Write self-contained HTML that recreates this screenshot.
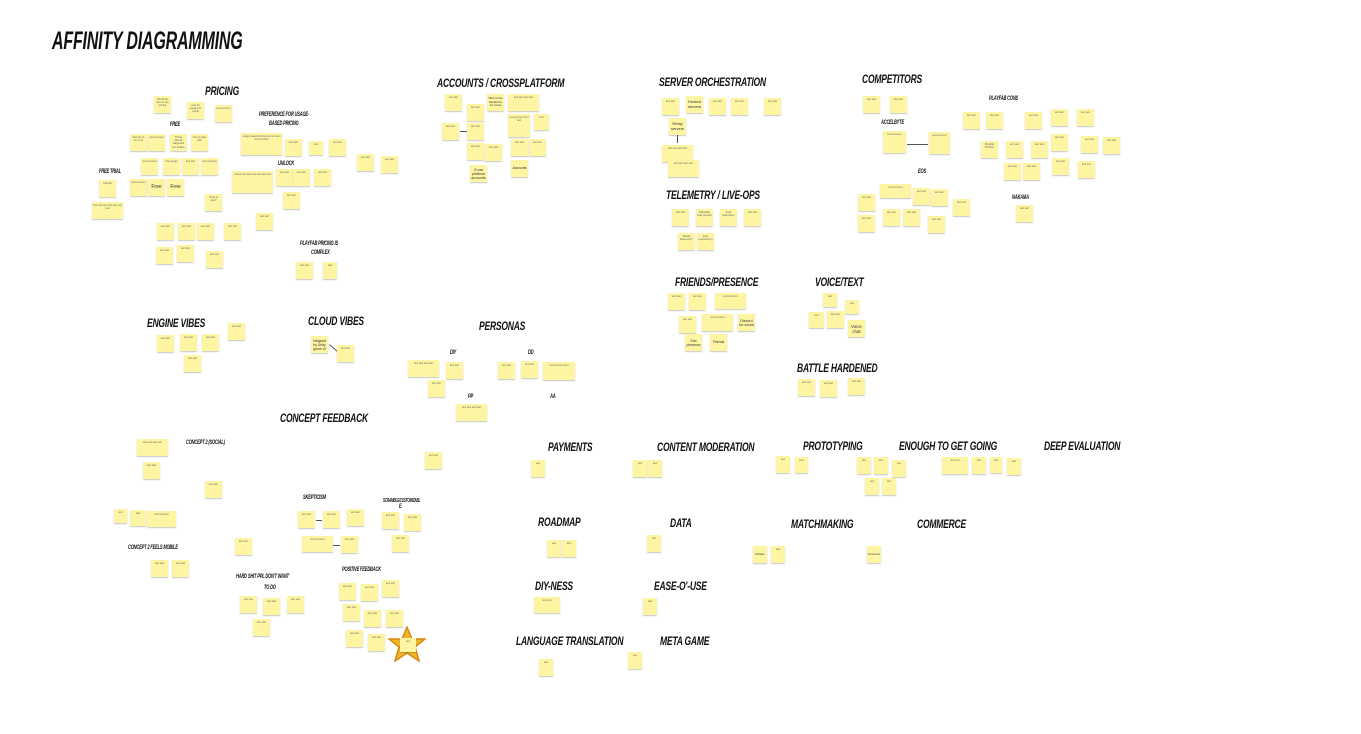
<!DOCTYPE html>
<html><head><meta charset="utf-8"><style>
html,body{margin:0;padding:0;background:#fff;width:1361px;height:734px;overflow:hidden;position:relative}
.s{position:absolute;width:17px;height:17px;background:#fdf5a1;box-shadow:0 1px 1px rgba(0,0,0,.22);font:2.6px/3.2px "Liberation Sans",sans-serif;color:#666;text-align:center;padding:2px 1px;box-sizing:border-box;overflow:hidden}
.b{font-size:5px;line-height:5.5px;color:#333;display:flex;align-items:center;justify-content:center}
.h{position:absolute;font-family:"Liberation Sans",sans-serif;font-weight:bold;font-style:italic;color:#111;white-space:nowrap;font-size:12px;line-height:12px;letter-spacing:-.3px;transform:scaleX(.71);transform-origin:0 0}
.l{font-size:6.5px;line-height:8px;transform:scaleX(.62)}
.ar{position:absolute;height:1px;background:#555}
</style></head><body>
<div class="h" style="left:52px;top:28px;font-size:25px;line-height:26px;transform:scaleX(.64)">AFFINITY DIAGRAMMING</div>

<!-- PRICING -->
<div class="h" style="left:205px;top:85px">PRICING</div>
<div class="h l" style="left:170px;top:121px">FREE</div>
<div class="h l" style="left:99px;top:168px">FREE TRIAL</div>
<div class="h l" style="left:259px;top:111px">PREFERENCE FOR USAGE-</div>
<div class="h l" style="left:269px;top:120px">BASED PRICING</div>
<div class="h l" style="left:278px;top:160px">UNLOCK</div>
<div class="h l" style="left:300px;top:240px">PLAYFAB PRICING IS</div>
<div class="h l" style="left:311px;top:249px">COMPLEX</div>
<div class="s" style="left:154px;top:96px">Would be nice to see pricing</div>
<div class="s" style="left:187px;top:102px">cost for usage per month</div>
<div class="s" style="left:215px;top:105px">text text text</div>
<div class="s" style="left:130px;top:134px">free tier to try it out</div>
<div class="s" style="left:148px;top:134px">text text text</div>
<div class="s" style="left:170px;top:134px;font-size:3px">Think about targeted for indies</div>
<div class="s" style="left:191px;top:134px">free to start with</div>
<div class="s" style="left:141px;top:158px">text text text</div>
<div class="s" style="left:163px;top:158px">free usage</div>
<div class="s" style="left:182px;top:158px">text text</div>
<div class="s" style="left:201px;top:158px">text text text</div>
<div class="s" style="left:130px;top:179px">text text text</div>
<div class="s b" style="left:148px;top:179px">Free</div>
<div class="s b" style="left:167px;top:179px">Free</div>
<div class="s" style="left:205px;top:194px">"Free to start"</div>
<div class="s" style="left:99px;top:180px">trial tier</div>
<div class="s" style="left:92px;top:202px;width:31px">free trial text text text text text</div>
<div class="s" style="left:157px;top:223px">text text</div>
<div class="s" style="left:178px;top:223px">text text</div>
<div class="s" style="left:197px;top:223px">text text</div>
<div class="s" style="left:224px;top:223px">text text</div>
<div class="s" style="left:156px;top:247px">text text</div>
<div class="s" style="left:177px;top:245px">text text</div>
<div class="s" style="left:206px;top:251px">text text</div>
<div class="s" style="left:256px;top:213px">text text</div>
<div class="s" style="left:241px;top:133px;width:41px;height:22px">usage based pricing text text text text text text</div>
<div class="s" style="left:285px;top:139px">text text</div>
<div class="s" style="left:309px;top:141px;width:14px;height:14px">text</div>
<div class="s" style="left:329px;top:139px">text text</div>
<div class="s" style="left:357px;top:154px">text text</div>
<div class="s" style="left:381px;top:156px">text text</div>
<div class="s" style="left:232px;top:171px;width:41px;height:22px">unlock text text text text text text</div>
<div class="s" style="left:276px;top:169px">text text</div>
<div class="s" style="left:293px;top:169px">text text</div>
<div class="s" style="left:314px;top:169px">text text</div>
<div class="s" style="left:283px;top:192px">text text</div>
<div class="s" style="left:296px;top:262px">text text</div>
<div class="s" style="left:323px;top:262px;width:14px">text</div>

<!-- ACCOUNTS -->
<div class="h" style="left:437px;top:77px">ACCOUNTS / CROSSPLATFORM</div>
<div class="s" style="left:445px;top:94px">text text</div>
<div class="s" style="left:467px;top:104px">text text</div>
<div class="s b" style="left:487px;top:94px;font-size:3px;line-height:3.5px">Who is the backbone for cross</div>
<div class="s" style="left:508px;top:94px;width:31px">text text text text</div>
<div class="s" style="left:442px;top:123px">text text</div>
<div class="ar" style="left:460px;top:131px;width:7px"></div>
<div class="s" style="left:467px;top:123px">text text</div>
<div class="s" style="left:508px;top:114px;width:22px;height:23px">text text text text text</div>
<div class="s" style="left:534px;top:114px;width:15px;height:16px">text</div>
<div class="s" style="left:467px;top:143px">text text</div>
<div class="s" style="left:485px;top:144px">text text</div>
<div class="s" style="left:511px;top:139px">text text</div>
<div class="s" style="left:529px;top:139px">text text</div>
<div class="s b" style="left:470px;top:165px;font-size:3.6px;line-height:4px">Cross platform accounts</div>
<div class="s b" style="left:511px;top:160px;font-size:3.4px">Accounts</div>

<!-- SERVER -->
<div class="h" style="left:659px;top:76px">SERVER ORCHESTRATION</div>
<div class="s" style="left:662px;top:98px">text text</div>
<div class="s b" style="left:686px;top:96px;font-size:4px;line-height:4.5px">Hosted servers</div>
<div class="s" style="left:709px;top:98px">text text</div>
<div class="s" style="left:731px;top:98px">text text</div>
<div class="s" style="left:764px;top:98px">text text</div>
<div class="s b" style="left:669px;top:118px;font-size:4px;line-height:4.5px">Relay servers</div>
<div class="ar" style="left:677px;top:135px;width:1px;height:8px"></div>
<div class="s" style="left:662px;top:145px;width:31px">text text text text</div>
<div class="s" style="left:668px;top:160px;width:31px">text text text text</div>

<!-- TELEMETRY -->
<div class="h" style="left:666px;top:189px">TELEMETRY / LIVE-OPS</div>
<div class="s" style="left:672px;top:209px">text text</div>
<div class="s" style="left:696px;top:209px;font-size:3px">PlayFab real growth</div>
<div class="s" style="left:720px;top:209px;font-size:3px">Just telemetry</div>
<div class="s" style="left:744px;top:209px">text text</div>
<div class="s" style="left:678px;top:233px;font-size:3px">"Basic telemetry"</div>
<div class="s" style="left:697px;top:233px;font-size:3px">Just monitoring</div>

<!-- COMPETITORS -->
<div class="h" style="left:862px;top:73px">COMPETITORS</div>
<div class="h l" style="left:881px;top:119px">ACCELBYTE</div>
<div class="h l" style="left:989px;top:95px">PLAYFAB CONS</div>
<div class="h l" style="left:918px;top:168px">EOS</div>
<div class="h l" style="left:1012px;top:194px">NAKAMA</div>
<div class="s" style="left:863px;top:96px">text text</div>
<div class="s" style="left:890px;top:96px">text text</div>
<div class="s" style="left:883px;top:131px;width:23px;height:22px">text text text</div>
<div class="ar" style="left:907px;top:144px;width:21px"></div>
<div class="s" style="left:929px;top:132px;width:21px;height:22px">text text text</div>
<div class="s" style="left:963px;top:112px">text text</div>
<div class="s" style="left:986px;top:112px">text text</div>
<div class="s" style="left:1025px;top:112px">text text</div>
<div class="s" style="left:1051px;top:109px">text text</div>
<div class="s" style="left:1077px;top:109px">text text</div>
<div class="s" style="left:981px;top:141px">PlayFab "Pricing"</div>
<div class="s" style="left:1006px;top:141px">text text</div>
<div class="s" style="left:1031px;top:141px">text text</div>
<div class="s" style="left:1051px;top:134px">text text</div>
<div class="s" style="left:1081px;top:136px">text text</div>
<div class="s" style="left:1103px;top:137px">text text</div>
<div class="s" style="left:1004px;top:163px">text text</div>
<div class="s" style="left:1023px;top:163px">text text</div>
<div class="s" style="left:1052px;top:158px">text text</div>
<div class="s" style="left:1078px;top:161px">text text</div>
<div class="s" style="left:880px;top:184px;width:31px;height:14px">text text text</div>
<div class="s" style="left:913px;top:188px">text text</div>
<div class="s" style="left:931px;top:189px">text text</div>
<div class="s" style="left:953px;top:199px">text text</div>
<div class="s" style="left:858px;top:194px">text text</div>
<div class="s" style="left:858px;top:215px">text text</div>
<div class="s" style="left:883px;top:209px">text text</div>
<div class="s" style="left:903px;top:209px">text text</div>
<div class="s" style="left:928px;top:216px">text text</div>
<div class="s" style="left:1016px;top:205px">text text</div>

<!-- FRIENDS -->
<div class="h" style="left:675px;top:276px">FRIENDS/PRESENCE</div>
<div class="s" style="left:668px;top:293px">text text</div>
<div class="s" style="left:689px;top:293px">text text</div>
<div class="s" style="left:715px;top:293px;width:31px;height:16px">text text text</div>
<div class="s" style="left:679px;top:316px">text text</div>
<div class="s" style="left:702px;top:314px;width:31px">text text text</div>
<div class="s b" style="left:738px;top:314px;font-size:3.6px;line-height:4px">Discord for social</div>
<div class="s b" style="left:685px;top:334px;font-size:3.4px;line-height:4px">Sub presence</div>
<div class="s b" style="left:710px;top:334px;font-size:3.4px">Friends</div>

<!-- VOICE -->
<div class="h" style="left:815px;top:276px">VOICE/TEXT</div>
<div class="s" style="left:823px;top:293px;width:14px;height:14px">text</div>
<div class="s" style="left:845px;top:300px;width:14px;height:14px">text</div>
<div class="s" style="left:809px;top:312px;width:15px;height:16px">text</div>
<div class="s" style="left:827px;top:311px">text text</div>
<div class="s b" style="left:848px;top:320px;font-size:4.4px;line-height:5px">Voice chat</div>

<!-- BATTLE -->
<div class="h" style="left:797px;top:362px">BATTLE HARDENED</div>
<div class="s" style="left:798px;top:379px">text text</div>
<div class="s" style="left:820px;top:380px">text text</div>
<div class="s" style="left:848px;top:378px">text text</div>

<!-- ENGINE / CLOUD / PERSONAS -->
<div class="h" style="left:147px;top:317px">ENGINE VIBES</div>
<div class="s" style="left:157px;top:335px">text text</div>
<div class="s" style="left:180px;top:334px">text text</div>
<div class="s" style="left:202px;top:334px">text text</div>
<div class="s" style="left:228px;top:323px">text text</div>
<div class="s" style="left:184px;top:355px">text text</div>
<div class="h" style="left:308px;top:315px">CLOUD VIBES</div>
<div class="s b" style="left:311px;top:336px;font-size:3.4px;line-height:4px">Intrigued by Unity game UI</div>
<div class="ar" style="left:328px;top:348px;width:12px;transform:rotate(40deg)"></div>
<div class="s" style="left:337px;top:345px">text text</div>
<div class="h" style="left:479px;top:320px">PERSONAS</div>
<div class="h l" style="left:450px;top:349px">DIY</div>
<div class="h l" style="left:528px;top:349px">DD</div>
<div class="h l" style="left:468px;top:393px">PP</div>
<div class="h l" style="left:550px;top:393px">AA</div>
<div class="s" style="left:408px;top:360px;width:31px">text text text text</div>
<div class="s" style="left:446px;top:362px">text text</div>
<div class="s" style="left:428px;top:380px">text text</div>
<div class="s" style="left:498px;top:362px">text text</div>
<div class="s" style="left:521px;top:361px">text text</div>
<div class="s" style="left:543px;top:362px;width:32px;height:18px">text text text text</div>
<div class="s" style="left:456px;top:404px;width:31px">text text text text</div>

<!-- CONCEPT FEEDBACK -->
<div class="h" style="left:280px;top:412px">CONCEPT FEEDBACK</div>
<div class="h l" style="left:186px;top:439px">CONCEPT 2 (SOCIAL)</div>
<div class="h l" style="left:128px;top:544px">CONCEPT 2 FEELS MOBILE</div>
<div class="h l" style="left:303px;top:494px">SKEPTICISM</div>
<div class="h l" style="left:383px;top:497px;font-size:5px">SCRAMBLE/CUSTOMIZABL</div>
<div class="h l" style="left:399px;top:503px">E</div>
<div class="h l" style="left:236px;top:573px">HARD SHIT PPL DON'T WANT</div>
<div class="h l" style="left:264px;top:584px">TO DO</div>
<div class="h l" style="left:342px;top:566px">POSITIVE FEEDBACK</div>
<div class="s" style="left:137px;top:439px;width:31px">text text text text</div>
<div class="s" style="left:143px;top:462px">text text</div>
<div class="s" style="left:205px;top:481px">text text</div>
<div class="s" style="left:114px;top:509px;width:13px;height:14px">text</div>
<div class="s" style="left:130px;top:510px;width:16px;height:16px">text</div>
<div class="s" style="left:147px;top:511px;width:29px;height:16px">text text text</div>
<div class="s" style="left:235px;top:538px">text text</div>
<div class="s" style="left:151px;top:560px">text text</div>
<div class="s" style="left:172px;top:560px">text text</div>
<div class="s" style="left:425px;top:452px">text text</div>
<div class="s" style="left:298px;top:511px">text text</div>
<div class="ar" style="left:316px;top:520px;width:6px"></div>
<div class="s" style="left:323px;top:511px">text text</div>
<div class="s" style="left:347px;top:509px">text text</div>
<div class="s" style="left:302px;top:536px;width:31px;height:16px">text text text</div>
<div class="ar" style="left:333px;top:545px;width:7px"></div>
<div class="s" style="left:341px;top:536px">text text</div>
<div class="s" style="left:382px;top:512px">text text</div>
<div class="s" style="left:404px;top:514px">text text</div>
<div class="s" style="left:392px;top:535px">text text</div>
<div class="s" style="left:240px;top:596px">text text</div>
<div class="s" style="left:263px;top:598px">text text</div>
<div class="s" style="left:287px;top:596px">text text</div>
<div class="s" style="left:253px;top:619px">text text</div>
<div class="s" style="left:339px;top:583px">text text</div>
<div class="s" style="left:361px;top:584px">text text</div>
<div class="s" style="left:382px;top:580px">text text</div>
<div class="s" style="left:343px;top:604px">text text</div>
<div class="s" style="left:364px;top:610px">text text</div>
<div class="s" style="left:386px;top:610px">text text</div>
<div class="s" style="left:346px;top:630px">text text</div>
<div class="s" style="left:368px;top:634px">text text</div>
<svg style="position:absolute;left:388px;top:626px" width="38" height="36" viewBox="0 0 38 36"><polygon points="19,1 24,13 37,13 27,21 31,35 19,27 7,35 11,21 1,13 14,13" fill="#f3b52a" stroke="#d88a10" stroke-width="1.5"/></svg>
<div class="s" style="left:400px;top:638px;width:16px;height:14px">text</div>

<!-- BOTTOM -->
<div class="h" style="left:548px;top:441px">PAYMENTS</div>
<div class="s" style="left:531px;top:460px;width:14px">text</div>
<div class="h" style="left:657px;top:441px">CONTENT MODERATION</div>
<div class="s" style="left:633px;top:460px;width:14px">text</div>
<div class="s" style="left:648px;top:460px;width:14px">text</div>
<div class="h" style="left:803px;top:440px">PROTOTYPING</div>
<div class="s" style="left:776px;top:456px;width:14px">text</div>
<div class="s" style="left:795px;top:457px;width:13px;height:16px">text</div>
<div class="h" style="left:899px;top:440px">ENOUGH TO GET GOING</div>
<div class="s" style="left:857px;top:457px;width:14px">text</div>
<div class="s" style="left:874px;top:457px;width:14px">text</div>
<div class="s" style="left:892px;top:460px;width:14px">text</div>
<div class="s" style="left:865px;top:478px;width:14px">text</div>
<div class="s" style="left:882px;top:478px;width:14px">text</div>
<div class="h" style="left:1044px;top:440px">DEEP EVALUATION</div>
<div class="s" style="left:942px;top:457px;width:26px">text text</div>
<div class="s" style="left:972px;top:457px;width:14px">text</div>
<div class="s" style="left:990px;top:457px;width:12px;height:16px">text</div>
<div class="s" style="left:1007px;top:458px;width:14px">text</div>
<div class="h" style="left:538px;top:516px">ROADMAP</div>
<div class="s" style="left:547px;top:540px;width:14px">text</div>
<div class="s" style="left:562px;top:540px;width:14px">text</div>
<div class="h" style="left:670px;top:517px">DATA</div>
<div class="s" style="left:647px;top:535px;width:14px">text</div>
<div class="h" style="left:791px;top:518px">MATCHMAKING</div>
<div class="s b" style="left:753px;top:546px;width:14px;font-size:3px">Parties</div>
<div class="s" style="left:771px;top:546px;width:14px">text</div>
<div class="h" style="left:917px;top:518px">COMMERCE</div>
<div class="s b" style="left:867px;top:546px;width:14px;font-size:2.6px">Commerce</div>
<div class="h" style="left:535px;top:580px">DIY-NESS</div>
<div class="s" style="left:534px;top:597px;width:26px;height:16px">text text</div>
<div class="h" style="left:654px;top:580px">EASE-O'-USE</div>
<div class="s" style="left:643px;top:598px;width:14px">text</div>
<div class="h" style="left:516px;top:635px">LANGUAGE TRANSLATION</div>
<div class="s" style="left:539px;top:659px;width:14px">text</div>
<div class="h" style="left:660px;top:635px">META GAME</div>
<div class="s" style="left:628px;top:652px;width:14px">text</div>
</body></html>
